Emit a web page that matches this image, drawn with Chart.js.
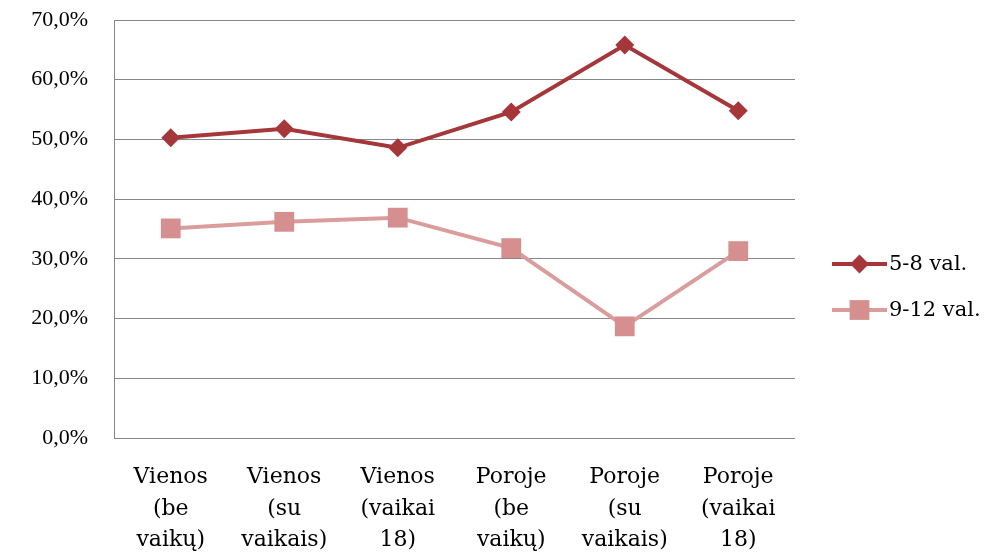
<!DOCTYPE html>
<html>
<head>
<meta charset="utf-8">
<script src="https://cdn.jsdelivr.net/npm/chart.js@4.4.1/dist/chart.umd.min.js"></script>
<style>
html,body{margin:0;padding:0;background:#fff;}
#wrap{width:988px;height:554px;position:relative;}
</style>
</head>
<body>
<div id="wrap"><canvas id="c" width="988" height="554"></canvas></div>
<script>
const categories = [
  ["Vienos","(be","vaikų)"],
  ["Vienos","(su","vaikais)"],
  ["Vienos","(vaikai","18)"],
  ["Poroje","(be","vaikų)"],
  ["Poroje","(su","vaikais)"],
  ["Poroje","(vaikai","18)"]
];
const seriesNames = ["5-8 val.", "9-12 val."];
const series58 = [50.3, 51.8, 48.6, 54.6, 65.8, 54.8];
const series912 = [35.1, 36.2, 36.9, 31.8, 18.7, 31.3];
const yTicks = [0, 10, 20, 30, 40, 50, 60, 70];

const darkRed = "#A5373A";
const pinkLine = "#DA9D9C";
const pinkMark = "#D58F8F";

const legendPlugin = {
  id: "customLegend",
  afterDraw(chart) {
    const ctx = chart.ctx;
    const items = [
      {ds: chart.data.datasets[0], y: 264},
      {ds: chart.data.datasets[1], y: 310}
    ];
    ctx.save();
    items.forEach(it => {
      const x0 = 832, x1 = 887, cx = (x0 + x1) / 2;
      ctx.strokeStyle = it.ds.borderColor;
      ctx.lineWidth = it.ds.borderWidth;
      ctx.beginPath(); ctx.moveTo(x0, it.y); ctx.lineTo(x1, it.y); ctx.stroke();
      ctx.fillStyle = it.ds.pointBackgroundColor;
      ctx.strokeStyle = it.ds.pointBackgroundColor;
      Chart.helpers.drawPoint(ctx, {
        pointStyle: it.ds.pointStyle,
        radius: it.ds.pointRadius,
        borderWidth: 0,
        rotation: 0
      }, cx, it.y);
      ctx.fillStyle = "#000";
      ctx.font = "21px 'DejaVu Serif'";
      ctx.textBaseline = "middle";
      ctx.textAlign = "left";
      ctx.fillText(it.ds.label, 889, it.y + 1);
    });
    ctx.restore();
  }
};

new Chart(document.getElementById("c"), {
  type: "line",
  data: {
    labels: categories,
    datasets: [
      {
        label: seriesNames[0],
        data: series58,
        borderColor: darkRed,
        backgroundColor: darkRed,
        pointBackgroundColor: darkRed,
        pointBorderColor: darkRed,
        borderWidth: 4,
        pointStyle: "rectRot",
        pointRadius: 9.5,
        pointHoverRadius: 9.5,
        pointBorderWidth: 0,
        tension: 0
      },
      {
        label: seriesNames[1],
        data: series912,
        borderColor: pinkLine,
        backgroundColor: pinkMark,
        pointBackgroundColor: pinkMark,
        pointBorderColor: pinkMark,
        borderWidth: 4,
        pointStyle: "rect",
        pointRadius: 14,
        pointHoverRadius: 14,
        pointBorderWidth: 0,
        tension: 0
      }
    ]
  },
  options: {
    responsive: false,
    animation: false,
    devicePixelRatio: 1,
    layout: {padding: {left: 0, right: 193, top: 20, bottom: 0}},
    plugins: {legend: {display: false}, tooltip: {enabled: false}},
    scales: {
      x: {
        offset: true,
        grid: {display: false, drawTicks: false},
        border: {display: false},
        ticks: {
          color: "#000",
          padding: 24,
          maxRotation: 0,
          autoSkip: false,
          font: {family: "DejaVu Serif", size: 22, lineHeight: 1.43}
        },
        afterFit(s) {
          s.height = 554 - 438;
          s.paddingTop = 0; s.paddingBottom = 0; s.paddingLeft = 0; s.paddingRight = 0;
        }
      },
      y: {
        min: 0,
        max: 70,
        afterBuildTicks(s) { s.ticks = yTicks.map(v => ({value: v})); },
        grid: {color: "#868686", lineWidth: 1, drawTicks: false},
        border: {display: true, color: "#868686", width: 1},
        ticks: {
          color: "#000",
          padding: 26,
          font: {family: "Liberation Serif", size: 22},
          callback: v => v.toFixed(1).replace(".", ",") + "%"
        },
        afterFit(s) {
          s.width = 114;
          s.paddingTop = 0; s.paddingBottom = 0; s.paddingLeft = 0; s.paddingRight = 0;
        }
      }
    }
  },
  plugins: [legendPlugin]
});
</script>
</body>
</html>
